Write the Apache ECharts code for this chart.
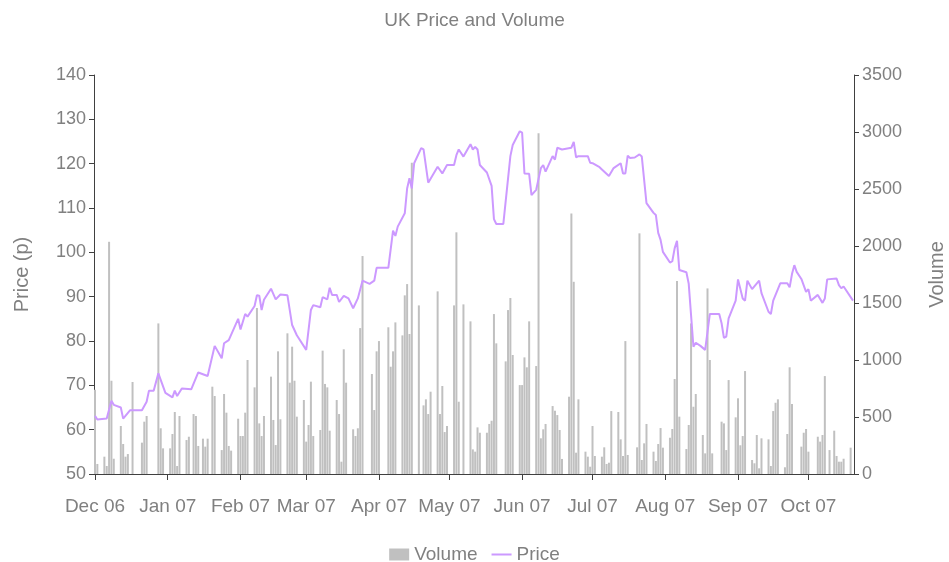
<!DOCTYPE html>
<html>
<head>
<meta charset="utf-8">
<script src="https://cdn.jsdelivr.net/npm/echarts@6/dist/echarts.min.js"></script>
<style>html,body{margin:0;padding:0;background:#fff}#chart{width:949px;height:562px}</style>
</head>
<body>
<div id="chart"></div>
<script>
// ---- data ----
const monthLabels = ['Jan','Feb','Mar','Apr','May','Jun','Jul','Aug','Sep','Oct','Nov','Dec'];
const priceTicks = [50,60,70,80,90,100,110,120,130,140];
const volumeTicks = [0,500,1000,1500,2000,2500,3000,3500];

const priceDates = ['2006-12-01','2006-12-02','2006-12-06','2006-12-08','2006-12-09','2006-12-12','2006-12-13','2006-12-16','2006-12-21','2006-12-23','2006-12-24','2006-12-26','2006-12-28','2006-12-31',
'2007-01-03','2007-01-04','2007-01-05','2007-01-07','2007-01-11','2007-01-14','2007-01-18','2007-01-21','2007-01-24','2007-01-25','2007-01-27','2007-01-31',
'2007-02-01','2007-02-03','2007-02-04','2007-02-07','2007-02-08','2007-02-09','2007-02-10','2007-02-11','2007-02-14','2007-02-16','2007-02-18','2007-02-21','2007-02-23','2007-02-25',
'2007-03-01','2007-03-03','2007-03-04','2007-03-07','2007-03-08','2007-03-10','2007-03-11','2007-03-12','2007-03-14','2007-03-15','2007-03-17','2007-03-19','2007-03-21','2007-03-23','2007-03-25','2007-03-28','2007-03-30','2007-03-31',
'2007-04-05','2007-04-07','2007-04-08','2007-04-09','2007-04-12','2007-04-13','2007-04-14','2007-04-15','2007-04-16','2007-04-19','2007-04-20','2007-04-22','2007-04-26','2007-04-28','2007-04-30',
'2007-05-03','2007-05-04','2007-05-05','2007-05-07','2007-05-10','2007-05-11','2007-05-12','2007-05-13','2007-05-14','2007-05-17','2007-05-19','2007-05-20','2007-05-21','2007-05-24','2007-05-27','2007-05-28','2007-05-31',
'2007-06-01','2007-06-02','2007-06-04','2007-06-05','2007-06-07','2007-06-09','2007-06-10','2007-06-11','2007-06-14','2007-06-15','2007-06-16','2007-06-18','2007-06-22','2007-06-23','2007-06-24','2007-06-25','2007-06-29','2007-06-30',
'2007-07-01','2007-07-04','2007-07-05','2007-07-08','2007-07-10','2007-07-13','2007-07-14','2007-07-15','2007-07-16','2007-07-17','2007-07-19','2007-07-21','2007-07-22','2007-07-24','2007-07-27','2007-07-28','2007-07-29','2007-07-30','2007-07-31',
'2007-08-03','2007-08-04','2007-08-05','2007-08-06','2007-08-07','2007-08-10','2007-08-11','2007-08-13','2007-08-14','2007-08-16','2007-08-18','2007-08-20','2007-08-24','2007-08-25','2007-08-26','2007-08-27','2007-08-28','2007-08-31',
'2007-09-01','2007-09-03','2007-09-04','2007-09-05','2007-09-07','2007-09-10','2007-09-11','2007-09-14','2007-09-15','2007-09-16','2007-09-19','2007-09-22','2007-09-23','2007-09-24','2007-09-25','2007-09-26','2007-09-28','2007-09-30',
'2007-10-01','2007-10-02','2007-10-05','2007-10-07','2007-10-08','2007-10-09','2007-10-13','2007-10-14','2007-10-15','2007-10-16','2007-10-20'];
const priceValues = [63.1,62.3,62.5,66.5,65.6,65.0,62.5,64.4,64.4,66.3,68.8,68.8,72.7,68.3,
67.3,68.8,67.6,69.3,69.1,72.9,72.1,78.9,76.1,79.5,80.2,85.0,
82.6,86.1,85.5,87.9,90.3,90.2,87.0,89.3,91.8,89.4,90.5,90.3,83.6,81.3,
78.0,87.0,88.1,87.6,89.9,89.4,92.0,90.4,90.4,88.8,90.2,89.6,87.4,89.6,93.6,92.9,93.6,96.5,
96.5,104.9,103.7,105.8,108.8,114.4,116.7,114.4,120.1,123.5,123.2,115.7,119.3,117.8,119.7,
119.7,121.9,123.2,121.6,124.4,123.2,123.8,123.2,119.7,118.0,115.0,107.5,106.4,106.4,121.7,124.2,127.3,
127.0,117.8,117.7,112.9,114.1,119.0,119.7,118.2,121.7,120.9,123.6,123.2,123.6,124.9,121.4,121.7,121.7,120.2,
120.1,119.2,118.7,117.2,119.0,120.1,117.8,117.8,121.8,121.3,121.4,122.1,121.6,111.1,108.9,108.4,104.4,102.8,100.1,
97.7,98.0,100.9,102.6,96.0,95.5,92.9,78.7,79.6,78.9,78.0,86.1,86.1,84.0,80.7,81.0,85.1,89.1,
93.9,89.6,89.1,93.6,91.7,93.6,90.8,86.6,86.1,89.1,93.0,93.0,92.1,95.1,97.1,95.6,94.0,91.1,
91.7,89.1,90.4,88.6,89.6,93.9,94.1,92.6,91.9,92.3,89.1];

const volumeDates = ['2006-12-01','2006-12-02','2006-12-05','2006-12-06','2006-12-07','2006-12-08','2006-12-09','2006-12-12','2006-12-13','2006-12-14','2006-12-15','2006-12-17','2006-12-21','2006-12-22','2006-12-23','2006-12-28','2006-12-29','2006-12-30',
'2007-01-02','2007-01-03','2007-01-04','2007-01-05','2007-01-06','2007-01-09','2007-01-10','2007-01-12','2007-01-13','2007-01-14','2007-01-16','2007-01-17','2007-01-18','2007-01-20','2007-01-21','2007-01-24','2007-01-25','2007-01-26','2007-01-27','2007-01-28','2007-01-31',
'2007-02-01','2007-02-02','2007-02-03','2007-02-04','2007-02-07','2007-02-08','2007-02-09','2007-02-10','2007-02-11','2007-02-14','2007-02-15','2007-02-16','2007-02-17','2007-02-18','2007-02-21','2007-02-22','2007-02-23','2007-02-24','2007-02-25','2007-02-28',
'2007-03-01','2007-03-02','2007-03-03','2007-03-04','2007-03-07','2007-03-08','2007-03-09','2007-03-10','2007-03-11','2007-03-14','2007-03-15','2007-03-16','2007-03-17','2007-03-18','2007-03-21','2007-03-22','2007-03-23','2007-03-24','2007-03-25','2007-03-29','2007-03-30','2007-03-31',
'2007-04-01','2007-04-05','2007-04-06','2007-04-07','2007-04-08','2007-04-11','2007-04-12','2007-04-13','2007-04-14','2007-04-15','2007-04-18','2007-04-20','2007-04-21','2007-04-22','2007-04-23','2007-04-26','2007-04-27','2007-04-28','2007-04-29','2007-04-30',
'2007-05-03','2007-05-04','2007-05-05','2007-05-07','2007-05-10','2007-05-11','2007-05-12','2007-05-13','2007-05-14','2007-05-17','2007-05-18','2007-05-19','2007-05-20','2007-05-21','2007-05-25','2007-05-26','2007-05-27','2007-05-28','2007-05-31',
'2007-06-01','2007-06-02','2007-06-03','2007-06-04','2007-06-07','2007-06-08','2007-06-09','2007-06-10','2007-06-11','2007-06-14','2007-06-15','2007-06-16','2007-06-17','2007-06-18','2007-06-21','2007-06-22','2007-06-23','2007-06-24','2007-06-25','2007-06-28','2007-06-29','2007-06-30',
'2007-07-01','2007-07-02','2007-07-05','2007-07-06','2007-07-07','2007-07-08','2007-07-09','2007-07-12','2007-07-13','2007-07-14','2007-07-15','2007-07-16','2007-07-20','2007-07-21','2007-07-22','2007-07-23','2007-07-24','2007-07-27','2007-07-28','2007-07-29','2007-07-30','2007-07-31',
'2007-08-03','2007-08-04','2007-08-05','2007-08-06','2007-08-07','2007-08-10','2007-08-11','2007-08-12','2007-08-13','2007-08-14','2007-08-17','2007-08-18','2007-08-19','2007-08-20','2007-08-21','2007-08-25','2007-08-26','2007-08-27','2007-08-28','2007-08-31',
'2007-09-01','2007-09-02','2007-09-03','2007-09-04','2007-09-07','2007-09-08','2007-09-09','2007-09-10','2007-09-11','2007-09-14','2007-09-15','2007-09-16','2007-09-17','2007-09-18','2007-09-21','2007-09-22','2007-09-23','2007-09-24','2007-09-28','2007-09-29','2007-09-30',
'2007-10-01','2007-10-05','2007-10-06','2007-10-07','2007-10-08','2007-10-10','2007-10-12','2007-10-13','2007-10-14','2007-10-15','2007-10-16','2007-10-19'];
const volumeValues = [740,88,152,70,2037,818,134,421,263,152,175,807,275,459,509,1321,401,225,
225,351,544,70,509,298,327,526,509,246,310,240,310,766,684,210,702,538,246,205,485,
333,333,538,1000,760,1456,444,333,509,854,474,254,1076,480,1234,801,1117,818,503,649,
284,430,810,333,386,1082,790,760,380,649,526,108,1094,801,392,333,401,1280,1912,877,561,1076,
1166,1287,941,1076,1330,1216,1567,1666,1228,2730,1479,602,655,526,722,1602,526,772,368,421,
1479,2120,634,1488,1339,216,196,409,362,362,439,467,1403,1146,988,1438,1544,1044,780,
780,1023,936,1339,947,2988,313,392,439,596,555,517,386,132,678,2286,1686,187,655,196,152,64,
421,158,152,234,88,99,552,544,304,158,1166,167,234,2111,123,269,439,196,114,263,403,231,
318,395,833,1693,503,219,430,1321,590,702,342,181,1628,1000,181,459,444,210,824,497,
664,252,333,903,123,94,342,50,313,304,70,552,625,655,59,351,936,614,240,362,395,
196,327,284,342,859,210,380,158,108,108,134,231];

// ---- chart ----
const priceData = priceDates.map((d, i) => [d, priceValues[i]]);
const volumeData = volumeDates.map((d, i) => [d, volumeValues[i]]);
const FONT = '"Liberation Sans", Arial, sans-serif';
const GRAY = '#808080';
const AXIS = '#404040';
const DAY = 86400000;
const LINE_ICON = 'path://M0,0 h0.05 v0.05 h-0.05 Z M0,5 h20 v2 h-20 Z M0,11.95 h0.05 v0.05 h-0.05 Z';

const chart = echarts.init(document.getElementById('chart'), null, {renderer: 'canvas'});
chart.setOption({
  animation: false,
  backgroundColor: '#ffffff',
  textStyle: {fontFamily: FONT},
  title: {
    text: 'UK Price and Volume',
    left: 'center', top: 6,
    textStyle: {color: GRAY, fontSize: 19, fontWeight: 'normal', fontFamily: FONT}
  },
  legend: {
    top: 540, left: 'center',
    itemWidth: 20, itemHeight: 12, itemGap: 14,
    textStyle: {color: GRAY, fontSize: 19, fontFamily: FONT},
    data: [
      {name: 'Volume', icon: 'rect', itemStyle: {color: '#c0c0c0'}},
      {name: 'Price', icon: LINE_ICON, itemStyle: {color: '#cc99ff'}}
    ]
  },
  grid: {left: 94, right: 95, top: 75, bottom: 88, outerBoundsMode: 'none', containLabel: false},
  xAxis: {
    type: 'time',
    min: '2006-12-01', max: '2007-10-20',
    minInterval: 28 * DAY, maxInterval: 31 * DAY,
    splitNumber: 11,
    axisLine: {show: true, lineStyle: {color: AXIS, width: 1}},
    axisTick: {show: true, length: 6, lineStyle: {color: AXIS}},
    splitLine: {show: false},
    axisLabel: {
      color: GRAY, fontSize: 19, fontFamily: FONT, margin: 23,
      showMaxLabel: false,
      formatter: function (v) {
        const d = new Date(v);
        return monthLabels[d.getMonth()] + ' ' + String(d.getFullYear()).slice(2);
      }
    }
  },
  yAxis: [
    {
      type: 'value', min: priceTicks[0], max: priceTicks[priceTicks.length - 1], interval: 10,
      name: 'Price (p)', nameLocation: 'middle', nameGap: 62,
      nameTextStyle: {color: GRAY, fontSize: 20, fontFamily: FONT},
      axisLine: {show: true, lineStyle: {color: AXIS, width: 1}},
      axisTick: {show: true, length: 5, lineStyle: {color: AXIS}},
      splitLine: {show: false},
      axisLabel: {color: GRAY, fontSize: 18, fontFamily: FONT, margin: 8}
    },
    {
      type: 'value', min: volumeTicks[0], max: volumeTicks[volumeTicks.length - 1], interval: 500,
      name: 'Volume', nameLocation: 'middle', nameGap: 73,
      nameTextStyle: {color: GRAY, fontSize: 20, fontFamily: FONT},
      axisLine: {show: true, lineStyle: {color: AXIS, width: 1}},
      axisTick: {show: true, length: 5, lineStyle: {color: AXIS}},
      splitLine: {show: false},
      axisLabel: {color: GRAY, fontSize: 18, fontFamily: FONT, margin: 8, formatter: function (v) { return String(v); }}
    }
  ],
  series: [
    {
      name: 'Volume', type: 'bar', yAxisIndex: 1,
      data: volumeData, barWidth: 2,
      itemStyle: {color: '#c0c0c0'},
      z: 1
    },
    {
      name: 'Price', type: 'line', yAxisIndex: 0,
      data: priceData, symbol: 'none', showSymbol: false,
      lineStyle: {color: '#cc99ff', width: 2},
      itemStyle: {color: '#cc99ff'},
      z: 3
    }
  ]
});
</script>
</body>
</html>
